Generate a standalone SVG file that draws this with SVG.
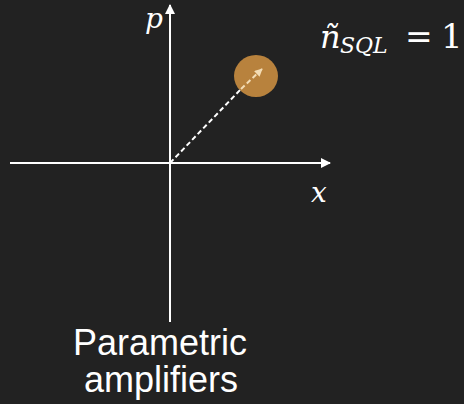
<svg xmlns="http://www.w3.org/2000/svg" width="464" height="404" viewBox="0 0 464 404">
<defs>
<marker id="ah" viewBox="0 0 10 10" refX="9" refY="5" markerWidth="5" markerHeight="5" orient="auto"><path d="M0,0 L10,5 L0,10 z" fill="#ffffff"/></marker>
<marker id="ah2" viewBox="0 0 10 10" refX="9" refY="5" markerWidth="4" markerHeight="4" orient="auto"><path d="M0,0 L10,5 L0,10 z" fill="#f3dcb4"/></marker>
</defs>
<style>
.ax{stroke:#ffffff;stroke-width:2;fill:none}
.m{font-family:"DejaVu Serif","Liberation Serif",serif;font-style:italic;fill:#ffffff}
.r{font-family:"DejaVu Serif","Liberation Serif",serif;fill:#ffffff}
.lbl{font-family:"Liberation Sans",Arial,sans-serif;fill:#ffffff;font-size:36px;text-anchor:middle}
</style>
<rect width="464" height="404" fill="#222222"/>
<g id="state">
<ellipse cx="256" cy="76" rx="22" ry="21" fill="#b8823d"/>
</g>
<g id="connectors">
<line class="ax" x1="10" y1="163" x2="330" y2="163" marker-end="url(#ah)"/>
<line class="ax" x1="170" y1="322" x2="170" y2="5" marker-end="url(#ah)"/>
<line x1="170" y1="163" x2="241" y2="89" stroke="#ffffff" stroke-width="2" stroke-dasharray="5,3"/>
<line x1="241" y1="89" x2="262" y2="69" stroke="#f3dcb4" stroke-width="2" stroke-dasharray="5,3" marker-end="url(#ah2)"/>
</g>
<g id="labels">
<text class="m" x="145" y="28" font-size="28">p</text>
<text class="m" x="311" y="202" font-size="28">x</text>
<text class="m" x="320" y="48" font-size="32">ñ</text>
<text class="m" x="340" y="53" font-size="22">SQL</text>
<text class="r" x="405" y="48" font-size="33">=</text>
<text class="r" x="441" y="48" font-size="34">1</text>
<text class="lbl" x="160" y="355">Parametric</text>
<text class="lbl" x="161" y="392">amplifiers</text>
</g>
</svg>
